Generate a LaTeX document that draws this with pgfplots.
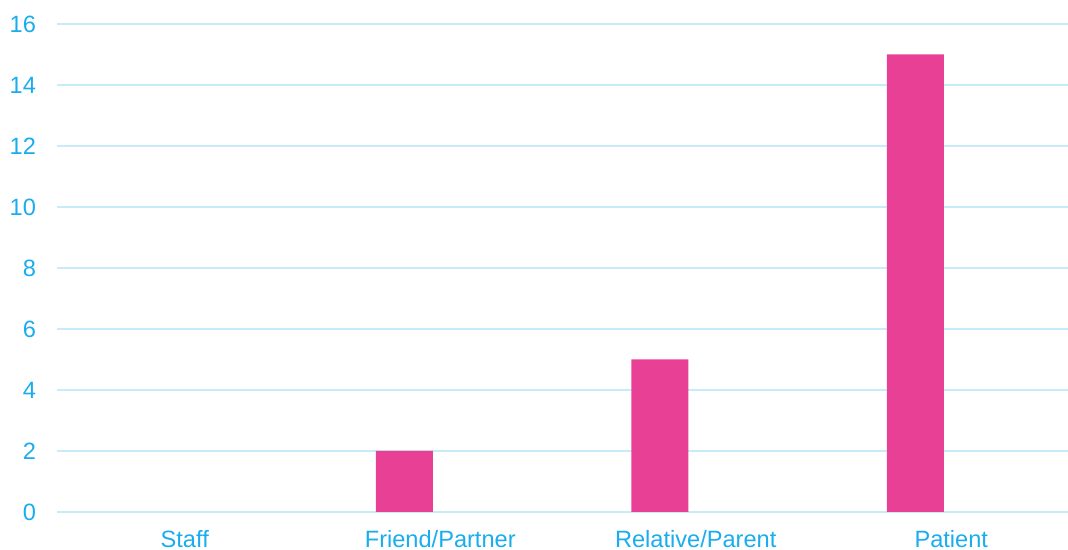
\documentclass[border=0pt]{standalone}
\usepackage{pgfplots}
\pgfplotsset{compat=1.18}
\usepackage{fontspec}
\setmainfont{Liberation Sans}
\definecolor{tickblue}{HTML}{1AADEE}
\definecolor{gridblue}{HTML}{C6ECFA}
\definecolor{barpink}{HTML}{E84095}
\begin{document}
\begin{tikzpicture}
\useasboundingbox (0,0) rectangle (534pt,275pt);
\begin{axis}[
  at={(28.5pt,19pt)}, anchor=south west,
  scale only axis,
  width=505.5pt, height=244pt,
  xmin=-0.5, xmax=3.457,
  ymin=0, ymax=16,
  ytick={0,2,...,16},
  xtick={0,1,2,3},
  xticklabels={Staff,Friend/Partner,Relative/Parent,Patient},
  ymajorgrids,
  grid style={gridblue, line width=0.75pt},
  axis line style={draw=none},
  tick style={draw=none},
  ticklabel style={font=\fontsize{11.8}{14}\selectfont, text=tickblue},
  /pgf/number format/assume math mode=true,
  yticklabel style={xshift=-7pt},
  xticklabel style={yshift=-5.5pt},
  clip=false,
]
\addplot[ybar, bar width=28.5pt, bar shift=-18pt, fill=barpink, draw=none]
  coordinates {(1,2) (2,5) (3,15)};
\end{axis}
\end{tikzpicture}
\end{document}
